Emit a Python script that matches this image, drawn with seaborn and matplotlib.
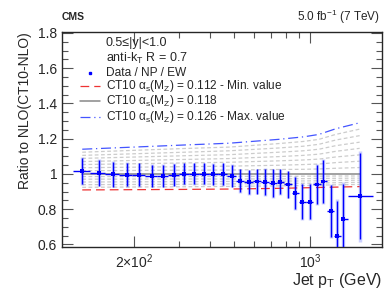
import seaborn as sns
import matplotlib.pyplot as plt
import matplotlib.ticker as mticker
from matplotlib.lines import Line2D
import numpy as np

# bin edges and data (Data / NP / EW ratio to CT10 NLO)
pt_edges = [114, 133, 153, 174, 196, 220, 245, 272, 300, 330, 362, 395, 430, 468, 507,
            548, 592, 638, 686, 737, 790, 846, 905, 967, 1032, 1101, 1172, 1248, 1327,
            1410, 1784]
pt_centers = [124, 144, 165, 187, 209, 234, 260, 288, 316, 346, 379, 411, 451, 490, 527,
              571, 615, 662, 712, 759, 816, 871, 928, 998, 1064, 1124, 1209, 1277, 1349,
              1575]
ratio = [1.017, 1.007, 0.998, 0.996, 0.994, 0.990, 0.989, 0.994, 1.000, 1.000, 1.000,
         0.998, 0.998, 0.990, 0.962, 0.953, 0.957, 0.955, 0.947, 0.955, 0.940, 0.892,
         0.843, 0.843, 0.940, 0.957, 0.789, 0.645, 0.745, 0.874]
err = [0.074, 0.074, 0.070, 0.066, 0.065, 0.062, 0.062, 0.062, 0.060, 0.060, 0.060,
       0.060, 0.061, 0.062, 0.065, 0.068, 0.070, 0.075, 0.078, 0.070, 0.075, 0.090,
       0.100, 0.100, 0.110, 0.120, 0.146, 0.200, 0.200, 0.246]

# theory curves for alpha_s(MZ) = 0.112 ... 0.126
theory_pt = [124, 316, 476, 750, 940, 1085, 1265, 1575]
as_min = [0.909, 0.912, 0.914, 0.918, 0.921, 0.923, 0.925, 0.928]
as_central = [1.0, 1.0, 1.0, 1.0, 1.0, 1.0, 1.0, 1.0]
as_max = [1.140, 1.164, 1.174, 1.196, 1.210, 1.224, 1.256, 1.290]
as_others = [
    [0.924, 0.927, 0.929, 0.932, 0.934, 0.936, 0.938, 0.940],
    [0.939, 0.941, 0.943, 0.945, 0.947, 0.948, 0.950, 0.952],
    [0.954, 0.956, 0.957, 0.959, 0.960, 0.961, 0.963, 0.964],
    [0.970, 0.971, 0.971, 0.972, 0.973, 0.974, 0.975, 0.976],
    [0.985, 0.985, 0.986, 0.986, 0.987, 0.987, 0.988, 0.988],
    [1.018, 1.021, 1.022, 1.025, 1.026, 1.028, 1.032, 1.036],
    [1.035, 1.041, 1.044, 1.049, 1.053, 1.056, 1.064, 1.072],
    [1.053, 1.062, 1.066, 1.074, 1.079, 1.084, 1.096, 1.108],
    [1.070, 1.082, 1.087, 1.098, 1.105, 1.112, 1.128, 1.145],
    [1.088, 1.103, 1.109, 1.123, 1.131, 1.140, 1.160, 1.180],
    [1.105, 1.123, 1.131, 1.147, 1.157, 1.168, 1.192, 1.217],
    [1.123, 1.144, 1.152, 1.172, 1.184, 1.196, 1.224, 1.254],
]

legend_labels = ['Data / NP / EW',
                 r'CT10 $\alpha_{\rm s}$(M$_{\rm Z}$) = 0.112 - Min. value',
                 r'CT10 $\alpha_{\rm s}$(M$_{\rm Z}$) = 0.118',
                 r'CT10 $\alpha_{\rm s}$(M$_{\rm Z}$) = 0.126 - Max. value']

sns.set_style("ticks")
plt.rcParams['font.family'] = ['Liberation Sans', 'DejaVu Sans']
plt.rcParams['mathtext.fontset'] = 'custom'
plt.rcParams['mathtext.rm'] = 'Liberation Sans'
plt.rcParams['mathtext.it'] = 'Liberation Sans'

RED, GRAY, BLUE = '#ee3333', '#888888', '#4455ff'
red_ls = (0, (7, 4))
blue_ls = (0, (8, 3, 1, 3))

fig = plt.figure(figsize=(3.9, 3.02), dpi=100)
ax = fig.add_axes([0.159, 0.182, 0.82, 0.712])

for vals in as_others:
    sns.lineplot(x=theory_pt, y=vals, ax=ax, color='#cccccc', lw=0.9,
                 linestyle=(0, (3, 2)), zorder=1)
sns.lineplot(x=theory_pt, y=as_min, ax=ax, color=RED, lw=0.9, linestyle=red_ls, zorder=2)
sns.lineplot(x=theory_pt, y=as_central, ax=ax, color=GRAY, lw=1.1, zorder=2)
sns.lineplot(x=theory_pt, y=as_max, ax=ax, color=BLUE, lw=0.9, linestyle=blue_ls, zorder=2)

pt_c = np.array(pt_centers)
edges = np.array(pt_edges)
xerr = [pt_c - edges[:-1], edges[1:] - pt_c]
ax.errorbar(pt_c, ratio, yerr=np.array(err) * 1.05, fmt='none', ecolor='#3344ff',
            elinewidth=2.5, alpha=0.25, zorder=3)
ax.errorbar(pt_c, ratio, yerr=err, xerr=xerr, fmt='none', ecolor='#0000ff',
            elinewidth=1, capsize=0, zorder=4)
sns.scatterplot(x=pt_centers, y=ratio, ax=ax, marker='s', s=8, color='#0000ff',
                edgecolor='none', zorder=5)

ax.set_xscale('log')
ax.set_xlim(103, 1930)
ax.set_ylim(0.585, 1.805)

ax.xaxis.set_major_locator(mticker.FixedLocator([200, 1000]))
ax.xaxis.set_major_formatter(mticker.FixedFormatter([r'2$\times$10$^{2}$', r'10$^{3}$']))
ax.xaxis.set_minor_locator(mticker.FixedLocator([300, 400, 500, 600, 700, 800, 900]))
ax.xaxis.set_minor_formatter(mticker.NullFormatter())
ax.yaxis.set_major_locator(mticker.MultipleLocator(0.2))
ax.yaxis.set_minor_locator(mticker.MultipleLocator(0.05))
ax.yaxis.set_major_formatter(mticker.FuncFormatter(lambda v, p: f"{v:g}"))

ax.tick_params(which='both', direction='in', top=True, right=True, labelsize=10,
               width=0.8, color='#555555')
ax.tick_params(which='major', length=8)
ax.tick_params(which='minor', length=4)
ax.tick_params(axis='x', which='major', pad=4)
for s in ax.spines.values():
    s.set_linewidth(1.0)

ax.set_ylabel('Ratio to NLO(CT10-NLO)', fontsize=10, loc='top')
ax.set_xlabel(r'Jet p$_{\rm T}$ (GeV)', fontsize=11.5, loc='right', labelpad=0)

fig.text(0.159, 0.945, 'CMS', fontsize=7.5, fontweight='bold', ha='left', va='center')
fig.text(0.975, 0.945, r'5.0 fb$^{-1}$ (7 TeV)', fontsize=8.5, ha='right', va='center')

ax.text(0.1375, 0.949, '0.5≤|y|<1.0', transform=ax.transAxes, fontsize=9, va='center')
ax.text(0.1375, 0.879, r'anti-k$_{\rm T}$ R = 0.7', transform=ax.transAxes, fontsize=9,
        va='center')

# legend block, ROOT style: sample + label rows
rows_y = [0.811, 0.748, 0.677, 0.606]
samples = [
    dict(marker='s', markersize=2, color='#0000ff', lw=0),
    dict(color=RED, lw=0.9, linestyle=red_ls),
    dict(color=GRAY, lw=1.1),
    dict(color=BLUE, lw=0.9, linestyle=blue_ls),
]
for yy, lab, style in zip(rows_y, legend_labels, samples):
    if style.get('lw') == 0:
        xs = [0.088]
    else:
        xs = [0.056, 0.119]
    ax.add_line(Line2D(xs, [yy] * len(xs), transform=ax.transAxes, clip_on=False, **style))
    ax.text(0.1375, yy, lab, transform=ax.transAxes, fontsize=8.6, va='center')

fig.savefig('out.png', dpi=100)
